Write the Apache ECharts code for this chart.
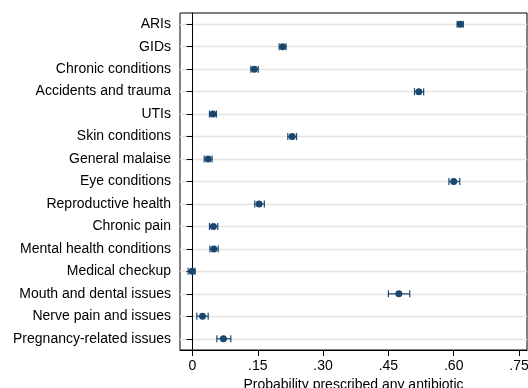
<!DOCTYPE html>
<html>
<head>
<meta charset="utf-8">
<script src="https://cdn.jsdelivr.net/npm/echarts@6/dist/echarts.min.js"></script>
<style>html,body{margin:0;padding:0;background:#fff;}#chart{width:528px;height:388px;}</style>
</head>
<body>
<div id="chart"></div>
<script>
var categories = ["ARIs","GIDs","Chronic conditions","Accidents and trauma","UTIs","Skin conditions","General malaise","Eye conditions","Reproductive health","Chronic pain","Mental health conditions","Medical checkup","Mouth and dental issues","Nerve pain and issues","Pregnancy-related issues"];
var estimates = [0.615, 0.207, 0.142, 0.520, 0.047, 0.229, 0.036, 0.600, 0.153, 0.048, 0.049, -0.001, 0.474, 0.023, 0.071];
var lower     = [0.608, 0.199, 0.134, 0.510, 0.039, 0.219, 0.027, 0.589, 0.143, 0.039, 0.040, -0.010, 0.450, 0.010, 0.056];
var upper     = [0.622, 0.215, 0.151, 0.531, 0.055, 0.239, 0.045, 0.614, 0.165, 0.058, 0.059, 0.006, 0.499, 0.036, 0.088];
var xTicks = [0, 0.15, 0.30, 0.45, 0.60, 0.75];
var xTickLabels = ["0", ".15", ".30", ".45", ".60", ".75"];

var navy = '#1a476f';
var font = '"Liberation Sans", Arial, Helvetica, sans-serif';

var pointData = estimates.map(function (v, i) { return [v, categories[i]]; });
var ciData = lower.map(function (lo, i) { return [lo, upper[i], categories[i]]; });

var chart = echarts.init(document.getElementById('chart'));
chart.setOption({
  animation: false,
  grid: { left: 180, right: 1, top: 13, bottom: 38, show: true, borderColor: '#000', borderWidth: 1, containLabel: false, outerBoundsMode: 'none' },
  xAxis: {
    type: 'value',
    min: -0.0287, max: 0.7684,
    name: 'Probability prescribed any antibiotic',
    nameLocation: 'middle', nameGap: 26,
    nameTextStyle: { fontFamily: font, fontSize: 14, color: '#000' },
    axisLine: { show: true, onZero: false, lineStyle: { color: '#000', width: 1 } },
    axisTick: { show: true, length: 6, lineStyle: { color: '#000' }, customValues: xTicks },
    axisLabel: {
      fontFamily: font, fontSize: 14, color: '#000', margin: 9,
      customValues: xTicks,
      formatter: function (v) {
        for (var i = 0; i < xTicks.length; i++) if (Math.abs(xTicks[i] - v) < 1e-6) return xTickLabels[i];
        return '';
      }
    },
    splitLine: { show: false }
  },
  yAxis: {
    type: 'category',
    data: categories,
    inverse: true,
    boundaryGap: true,
    axisLine: { show: true, lineStyle: { color: '#000', width: 1 } },
    axisTick: { show: true, alignWithLabel: true, length: 6, lineStyle: { color: '#000' } },
    axisLabel: { fontFamily: font, fontSize: 14, color: '#000', margin: 9 },
    splitLine: { show: true, alignWithLabel: true, lineStyle: { color: '#e3e3e3', width: 1.3 } }
  },
  series: [
    {
      type: 'custom',
      data: ciData,
      encode: { x: [0, 1], y: 2 },
      z: 3,
      renderItem: function (params, api) {
        var y = api.value(2);
        var p0 = api.coord([api.value(0), y]);
        var p1 = api.coord([api.value(1), y]);
        var h = 3.5;
        var style = { stroke: navy, lineWidth: 1.2 };
        return {
          type: 'group',
          children: [
            { type: 'line', shape: { x1: p0[0], y1: p0[1], x2: p1[0], y2: p1[1] }, style: style },
            { type: 'line', shape: { x1: p0[0], y1: p0[1] - h, x2: p0[0], y2: p0[1] + h }, style: style },
            { type: 'line', shape: { x1: p1[0], y1: p1[1] - h, x2: p1[0], y2: p1[1] + h }, style: style }
          ]
        };
      }
    },
    {
      type: 'scatter',
      data: pointData,
      symbol: 'circle',
      symbolSize: 7,
      z: 4,
      itemStyle: { color: navy, opacity: 1 }
    }
  ]
});
</script>
</body>
</html>
